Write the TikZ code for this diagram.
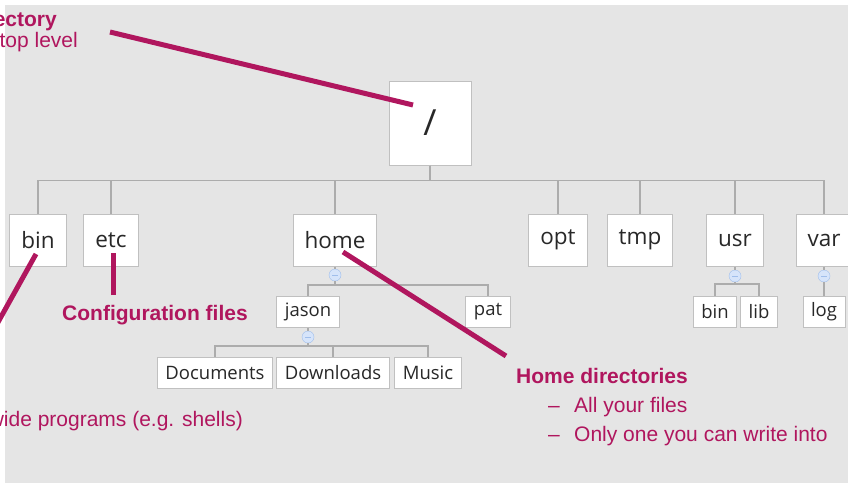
\documentclass[tikz,border=0pt]{standalone}
\usepackage{fontspec}
\newfontfamily\treefont{Open Sans}
\newfontfamily\notefont{Liberation Sans}
\definecolor{plum}{RGB}{176,22,94}
\definecolor{slide}{RGB}{229,229,229}
\definecolor{treeline}{RGB}{172,172,172}
\definecolor{boxline}{RGB}{192,192,192}
\definecolor{dirtext}{RGB}{40,40,40}
\definecolor{foldfill}{RGB}{214,228,250}
\definecolor{foldline}{RGB}{160,190,235}

\begin{document}
\begin{tikzpicture}[x=1pt, y=-1pt,
	dir/.style = {draw=boxline, line width=1pt, fill=white, text=dirtext, minimum height=52pt, inner xsep=11.5pt, font=\treefont\fontsize{22.5}{26}\selectfont},
	subdir/.style = {dir, minimum height=31pt, inner xsep=8pt, font=\treefont\fontsize{18.5}{21}\selectfont},
	fold/.style = {draw=foldline, fill=foldfill, circle, minimum size=12pt, inner sep=0pt,
		path picture={\draw[foldline, line width=1pt] (path picture bounding box.center) ++(-3pt,0) -- ++(6pt,0);}},
	branch/.style = {draw=treeline, line width=1.5pt},
	pointer/.style = {draw=plum, line width=5pt},
	remark/.style = {text=plum, inner sep=0pt, font=\notefont\fontsize{21}{25}\selectfont},
	remarkhead/.style = {remark, font=\notefont\bfseries\fontsize{21}{25}\selectfont}]
	\useasboundingbox (0,0) rectangle (848,483);
	\clip (0,0) rectangle (848,483);
	\fill[white] (0,0) rectangle (848,483);
	\fill[slide] (5,5) rectangle (848,483);

	% root and the top level
	\node[dir, minimum width=82pt, minimum height=84pt, font=\treefont\fontsize{36}{40}\selectfont] (root) at (430,123) {/};
	\node[dir] (bin) at (38,240) {bin};
	\node[dir] (etc) at (111,240) {etc};
	\node[dir] (home) at (335,240) {home};
	\node[dir] (opt) at (558,240) {opt};
	\node[dir] (tmp) at (640,240) {tmp};
	\node[dir] (usr) at (735,240) {usr};
	\node[dir] (var) at (824,240) {var};
	\foreach \d in {bin,etc,home,opt,tmp,usr,var}
		\draw[branch] (root.south) -- ++(0,15) -| (\d.north);

	% home
	\node[fold] (homefold) at (335,275) {};
	\node[subdir] (jason) at (308,312) {jason};
	\node[subdir] (pat) at (488,312) {pat};
	\draw[branch] (home.south) -- (homefold.north);
	\foreach \d in {jason,pat}
		\draw[branch] (homefold.south) -- ++(0,4) -| (\d.north);

	\node[fold] (jasonfold) at (308,337) {};
	\node[subdir] (docs) at (215,373) {Documents};
	\node[subdir] (downloads) at (333,373) {Downloads};
	\node[subdir] (music) at (428,373) {Music};
	\draw[branch] (jason.south) -- (jasonfold.north);
	\foreach \d in {docs,downloads,music}
		\draw[branch] (jasonfold.south) -- ++(0,3) -| (\d.north);

	% usr and var
	\node[fold] (usrfold) at (735,276) {};
	\node[subdir] (usrbin) at (715,312) {bin};
	\node[subdir] (usrlib) at (759,312) {lib};
	\draw[branch] (usr.south) -- (usrfold.north);
	\foreach \d in {usrbin,usrlib}
		\draw[branch] (usrfold.south) -- ++(0,2) -| (\d.north);

	\node[fold] (varfold) at (824,276) {};
	\node[subdir] (log) at (824,312) {log};
	\draw[branch] (var.south) -- (varfold.north);
	\draw[branch] (varfold.south) -- (log.north);

	% notes
	\node[remarkhead, anchor=base east] (rootnote) at (57,26) {ectory};
	\node[remark, anchor=base east] (toplevel) at (78,47) {top level};
	\node[remark, anchor=base east] (binnote) at (243,426) {wide programs (e.g. shells)};
	\node[remarkhead, anchor=base west] (etcnote) at (62,320) {Configuration files};
	\node[remarkhead, anchor=base west] (homenote) at (516,383) {Home directories};
	\node[remark, anchor=base west] (dash1) at (548,412) {–};
	\node[remark, anchor=base west] (item1) at (574,412) {All your files};
	\node[remark, anchor=base west] (dash2) at (548,441) {–};
	\node[remark, anchor=base west] (item2) at (574,441) {Only one you can write into};

	\coordinate (roottail) at (110,32);
	\coordinate (roottip) at (413,105);
	\coordinate (bintip) at (36,254);
	\coordinate (bintail) at (-8,333);
	\coordinate (etctip) at (113,253);
	\coordinate (etctail) at (113,295);
	\coordinate (hometip) at (343,252);
	\coordinate (hometail) at (506,356);
	\draw[pointer] (roottail) -- (roottip);
	\draw[pointer] (bintail) -- (bintip);
	\draw[pointer] (etctail) -- (etctip);
	\draw[pointer] (hometail) -- (hometip);
\end{tikzpicture}
\end{document}
